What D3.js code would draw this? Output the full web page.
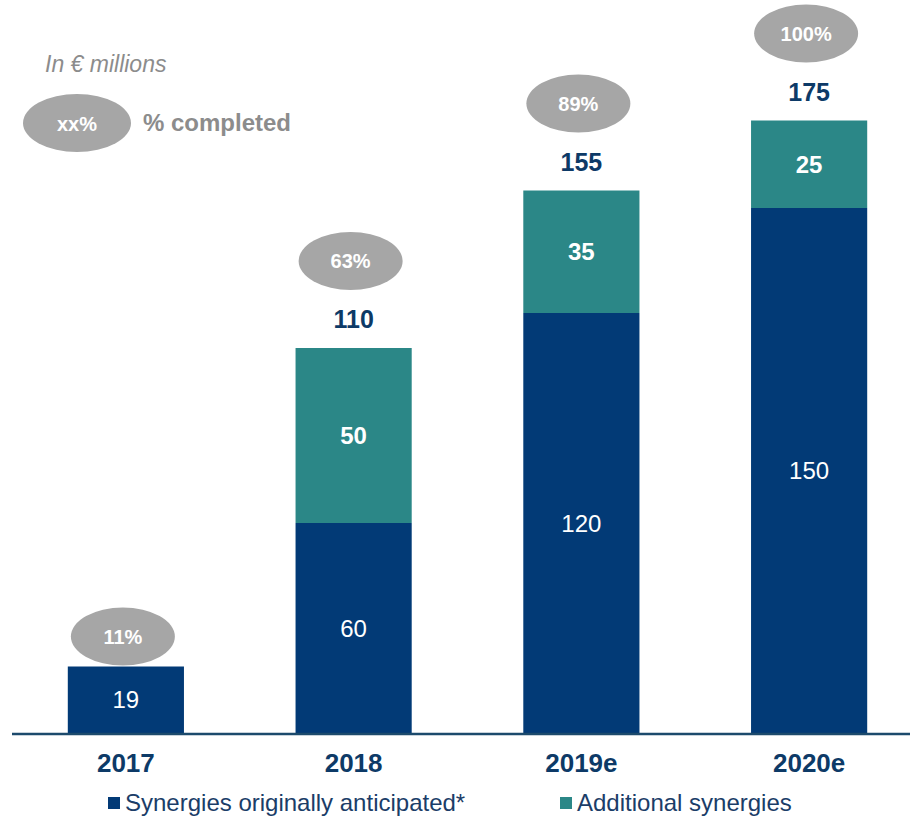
<!DOCTYPE html>
<html><head><meta charset="utf-8">
<script src="https://cdn.jsdelivr.net/npm/d3@7"></script>
<style>
html,body{margin:0;padding:0;background:#fff;}
svg{display:block;}
</style></head>
<body>
<svg id="chart" width="910" height="817"></svg>
<script>
const categories = ["2017", "2018", "2019e", "2020e"];
const originalSynergies = [19, 60, 120, 150];
const additionalSynergies = [0, 50, 35, 25];
const totals = [null, 110, 155, 175];
const completion = ["11%", "63%", "89%", "100%"];
const seriesNames = ["Synergies originally anticipated*", "Additional synergies"];

const navy = "#023a76", teal = "#2b8787", gray = "#a6a6a6", textNavy = "#0d3a67";
const sans = "'Liberation Sans',Arial,sans-serif";

const svg = d3.select("#chart");
const x = d3.scaleBand().domain(categories).range([12, 923]).paddingInner(0.49).paddingOuter(0.245);
const y = d3.scaleLinear().domain([0, 175]).range([733, 120.5]);

const data = categories.map((c, i) => ({c, base: originalSynergies[i], add: additionalSynergies[i], total: totals[i], pct: completion[i]}));

const g = svg.append("g");
g.selectAll(".base").data(data).join("rect")
  .attr("x", d => x(d.c)).attr("width", x.bandwidth())
  .attr("y", d => y(d.base)).attr("height", d => y(0) - y(d.base))
  .attr("fill", navy);
g.selectAll(".add").data(data.filter(d => d.add > 0)).join("rect")
  .attr("x", d => x(d.c)).attr("width", x.bandwidth())
  .attr("y", d => y(d.base + d.add)).attr("height", d => y(d.base) - y(d.base + d.add))
  .attr("fill", teal);

g.selectAll(".bl").data(data).join("text")
  .attr("x", d => x(d.c) + x.bandwidth()/2).attr("y", d => (y(0) + y(d.base))/2)
  .attr("dy", "0.36em").attr("text-anchor", "middle")
  .attr("fill", "#fff").style("font", `24px ${sans}`).text(d => d.base);
g.selectAll(".al").data(data.filter(d => d.add > 0)).join("text")
  .attr("x", d => x(d.c) + x.bandwidth()/2).attr("y", d => (y(d.base) + y(d.base + d.add))/2)
  .attr("dy", "0.36em").attr("text-anchor", "middle")
  .attr("fill", "#fff").style("font", `bold 24px ${sans}`).text(d => d.add);

g.selectAll(".tl").data(data.filter(d => d.total != null)).join("text")
  .attr("x", d => x(d.c) + x.bandwidth()/2).attr("y", d => y(d.total) - 29)
  .attr("dy", "0.36em").attr("text-anchor", "middle")
  .attr("fill", textNavy).style("font", `bold 25px ${sans}`).text(d => d.total);

const topOf = d => y(d.base + d.add);
const ellY = d => d.total != null ? topOf(d) - 87 : topOf(d) - 30;
g.selectAll(".pe").data(data).join("ellipse")
  .attr("cx", d => x(d.c) + x.bandwidth()/2 - 3).attr("cy", ellY)
  .attr("rx", 52).attr("ry", 29).attr("fill", gray);
g.selectAll(".pt").data(data).join("text")
  .attr("x", d => x(d.c) + x.bandwidth()/2 - 3).attr("y", ellY)
  .attr("dy", "0.36em").attr("text-anchor", "middle")
  .attr("fill", "#fff").style("font", `bold 20px ${sans}`).text(d => d.pct);

svg.append("line").attr("x1", 12).attr("x2", 910).attr("y1", y(0) + 1).attr("y2", y(0) + 1)
  .attr("stroke", "#1c4a6c").attr("stroke-width", 2.5);

const xAxis = svg.append("g").attr("transform", `translate(0,${y(0)})`)
  .call(d3.axisBottom(x).tickSize(0).tickPadding(21));
xAxis.select(".domain").remove();
xAxis.selectAll("text").attr("fill", textNavy).attr("dy", "0.71em")
  .style("font", `bold 26px ${sans}`);

svg.append("text").attr("x", 45).attr("y", 72).attr("fill", "#8c8c8c")
  .style("font", `italic 23px ${sans}`).text("In € millions");
svg.append("ellipse").attr("cx", 77).attr("cy", 123).attr("rx", 54).attr("ry", 29).attr("fill", gray);
svg.append("text").attr("x", 77).attr("y", 124).attr("dy", "0.36em").attr("text-anchor", "middle")
  .attr("fill", "#fff").style("font", `bold 20px ${sans}`).text("xx%");
svg.append("text").attr("x", 143).attr("y", 122).attr("dy", "0.36em")
  .attr("fill", "#8c8c8c").style("font", `bold 24px ${sans}`).text("% completed");

const legX = [108, 560];
const leg = svg.append("g");
seriesNames.forEach((n, i) => {
  leg.append("rect").attr("x", legX[i]).attr("y", 797).attr("width", 12).attr("height", 12)
    .attr("fill", i === 0 ? navy : teal);
  leg.append("text").attr("x", legX[i] + 17).attr("y", 802).attr("dy", "0.36em")
    .attr("fill", "#1b3d68").style("font", `24px ${sans}`).text(n);
});
</script>
</body></html>
